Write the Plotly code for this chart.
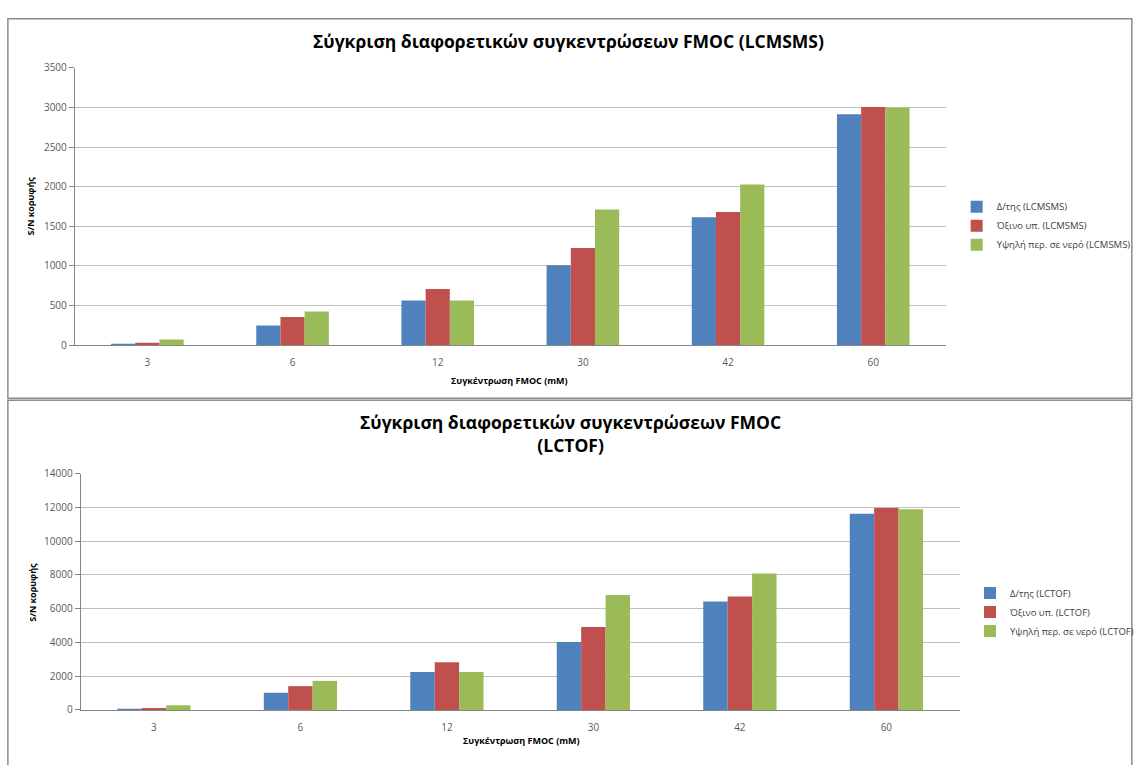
import plotly.graph_objects as go

categories = ["3", "6", "12", "30", "42", "60"]

lcmsms_dtis = [12, 248, 566, 1008, 1616, 2914]
lcmsms_oxino = [33, 355, 711, 1227, 1682, 3005]
lcmsms_ypsili = [74, 426, 566, 1711, 2029, 2995]

lctof_dtis = [59, 1020, 2246, 4027, 6428, 11625]
lctof_oxino = [118, 1412, 2827, 4918, 6718, 11973]
lctof_ypsili = [274, 1725, 2246, 6815, 8093, 11896]

names_top = ["Δ/της (LCMSMS)", "Όξινο υπ. (LCMSMS)", "Υψηλή περ. σε νερό (LCMSMS)"]
names_bot = ["Δ/της (LCTOF)", "Όξινο υπ. (LCTOF)", "Υψηλή περ. σε νερό (LCTOF)"]
colors = ["#4F81BD", "#C0504D", "#9BBB59"]

W, H = 1139, 765
FONT = "Open Sans"

def px(x):
    return x / W

def py(y):
    return 1 - y / H

fig = go.Figure()
for vals, name, c in zip([lcmsms_dtis, lcmsms_oxino, lcmsms_ypsili], names_top, colors):
    fig.add_trace(go.Bar(x=categories, y=vals, name=name, marker_color=c,
                         marker_line_width=0, xaxis="x", yaxis="y", legend="legend"))
for vals, name, c in zip([lctof_dtis, lctof_oxino, lctof_ypsili], names_bot, colors):
    fig.add_trace(go.Bar(x=categories, y=vals, name=name, marker_color=c,
                         marker_line_width=0, xaxis="x2", yaxis="y2", legend="legend2"))

axis_common = dict(showline=True, linecolor="#868686", linewidth=1,
                   tickfont=dict(family=FONT, size=10, color="#595959"))
xcommon = dict(type="category", ticks="outside", ticklen=8,
               tickcolor="rgba(0,0,0,0)", **axis_common)
ycommon = dict(showgrid=True, gridcolor="#BFBFBF", gridwidth=1, ticks="outside",
               ticklen=5, tickcolor="#868686", zeroline=False, tickformat="d",
               **axis_common)
legfont = dict(family=FONT, size=9.5, color="#404040")


def ann(text, x, y, size, angle=0):
    return dict(text=text, x=px(x), y=py(y), xref="paper", yref="paper",
                showarrow=False, xanchor="center", yanchor="middle",
                textangle=angle, font=dict(family=FONT, size=size, color="black"))


fig.update_layout(
    width=W, height=H,
    margin=dict(l=0, r=0, t=0, b=0),
    paper_bgcolor="white", plot_bgcolor="white",
    barmode="group", bargap=0.5, bargroupgap=0,
    font=dict(family=FONT),
    xaxis=dict(domain=[px(76), px(961)], anchor="y", **xcommon),
    yaxis=dict(domain=[py(344), py(61)], anchor="x", range=[0, 3500], dtick=500, **ycommon),
    xaxis2=dict(domain=[px(82), px(975)], anchor="y2", **xcommon),
    yaxis2=dict(domain=[py(716), py(475)], anchor="x2", range=[0, 14000], dtick=2000, **ycommon),
    legend=dict(x=px(972), y=py(222), xanchor="left", yanchor="middle",
                font=legfont, bgcolor="rgba(0,0,0,0)", tracegroupgap=0, itemwidth=30),
    legend2=dict(x=px(986), y=py(616), xanchor="left", yanchor="middle",
                 font=legfont, bgcolor="rgba(0,0,0,0)", tracegroupgap=0, itemwidth=30),
    shapes=[
        dict(type="rect", xref="paper", yref="paper", x0=px(8), x1=px(1150),
             y0=py(398), y1=py(11), line=dict(color="#8C8C8C", width=1.5)),
        dict(type="rect", xref="paper", yref="paper", x0=px(8), x1=px(1150),
             y0=py(780), y1=py(400), line=dict(color="#8C8C8C", width=1.5)),
    ],
    annotations=[
        ann("<b>Σύγκριση διαφορετικών συγκεντρώσεων FMOC (LCMSMS)</b>", 578, 34, 17.5),
        ann("<b>Σύγκριση διαφορετικών συγκεντρώσεων FMOC<br>(LCTOF)</b>", 580, 434, 17.5),
        ann("<b>S/N κορυφής</b>", 31, 202, 9, -90),
        ann("<b>S/N κορυφής</b>", 33, 596, 9, -90),
        ann("<b>Συγκέντρωση FMOC (mM)</b>", 518, 380, 9),
        ann("<b>Συγκέντρωση FMOC (mM)</b>", 530, 747, 9),
    ],
)

fig.write_html("out.html", config={"displayModeBar": False},
               post_script="document.body.style.margin='0';document.body.style.overflow='hidden';")
